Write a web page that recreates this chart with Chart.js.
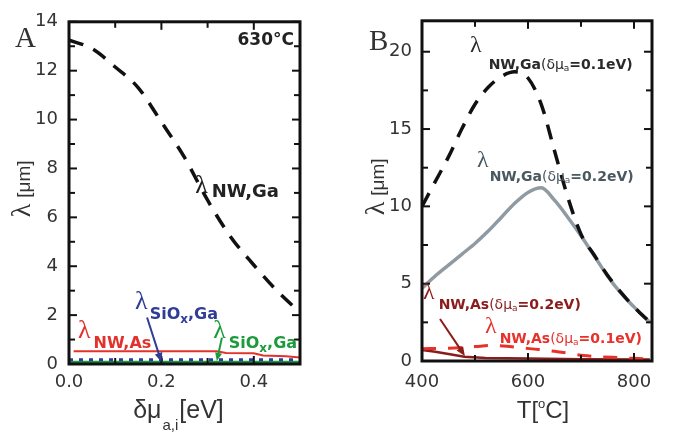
<!DOCTYPE html>
<html>
<head>
<meta charset="utf-8">
<script src="https://cdn.jsdelivr.net/npm/chart.js@4.4.1/dist/chart.umd.min.js"></script>
<style>
  html, body { margin: 0; padding: 0; background: #fff; }
  #wrap { position: relative; width: 674px; height: 436px; }
  canvas { position: absolute; left: 0; top: 0; }
</style>
</head>
<body>
<div id="wrap">
  <canvas id="chartA" width="674" height="436"></canvas>
  <canvas id="chartB" width="674" height="436"></canvas>
</div>
<script>
// panel A : lambda vs delta mu at 630 C
var muA = [0, 0.05, 0.1, 0.15, 0.2, 0.25, 0.3, 0.35, 0.4, 0.45, 0.5];
var nwGaA = [13.25, 12.9, 12.15, 11.3, 9.9, 8.45, 6.7, 5.2, 4.05, 3.0, 2.1];
var muAsA = [0.01, 0.32, 0.34, 0.40, 0.42, 0.47, 0.50];
var nwAsA = [0.52, 0.52, 0.45, 0.44, 0.35, 0.32, 0.27];
var muSiA = [0, 0.5];
var siBlueA = [0.17, 0.17];
var siGreenA = [0.08, 0.08];
var xTicksA = [0, 0.2, 0.4];
var xMinorA = [0.1, 0.3];
var yTicksA = [0, 2, 4, 6, 8, 10, 12, 14];
var yMinorA = [1, 3, 5, 7, 9, 11, 13];

// panel B : lambda vs T
var tGa = [400, 425, 450, 475, 500, 525, 550, 575, 600, 625, 650, 675, 700, 725, 750, 775, 800, 830];
var nwGa01 = [10.0, 11.6, 13.2, 15.0, 16.6, 17.7, 18.4, 18.7, 18.3, 16.6, 13.6, 10.6, 8.2, 6.85, 5.55, 4.45, 3.5, 2.5];
var nwGa02 = [4.7, 5.5, 6.2, 6.9, 7.6, 8.4, 9.3, 10.2, 10.9, 11.2, 10.4, 9.3, 8.1, 6.8, 5.5, 4.4, 3.5, 2.5];
var tAs02 = [400, 425, 450, 480, 520, 600, 700, 830];
var nwAs02 = [0.72, 0.6, 0.45, 0.27, 0.2, 0.16, 0.12, 0.1];
var tAs01 = [400, 450, 500, 530, 560, 585, 620, 650, 680, 705, 740, 770, 800, 830];
var nwAs01 = [0.8, 0.82, 0.93, 1.0, 0.95, 0.85, 0.75, 0.63, 0.48, 0.35, 0.27, 0.22, 0.17, 0.13];
var xTicksB = [400, 600, 800];
var xMinorB = [500, 700];
var yTicksB = [0, 5, 10, 15, 20];
var yMinorB = [2.5, 7.5, 12.5, 17.5];

var SANS = '"DejaVu Sans", sans-serif';
var SERIF = '"Liberation Serif", "Times New Roman", serif';
var AX = '"Liberation Sans", Arial, sans-serif';

function pts(xs, ys) {
  return xs.map(function (x, i) { return { x: x, y: ys[i] }; });
}

function drawRich(ctx, x, y, parts, color, align) {
  // parts: [text, font, dy, gap before]
  var total = 0;
  parts.forEach(function (p) { ctx.font = p[1]; total += (p[3] || 0) + ctx.measureText(p[0]).width; });
  var cx = align === 'right' ? x - total : (align === 'center' ? x - total / 2 : x);
  ctx.fillStyle = color;
  ctx.textAlign = 'left';
  ctx.textBaseline = 'alphabetic';
  parts.forEach(function (p) {
    ctx.font = p[1];
    cx += p[3] || 0;
    ctx.fillText(p[0], cx, y + (p[2] || 0));
    cx += ctx.measureText(p[0]).width;
  });
}

function drawArrow(ctx, x1, y1, x2, y2, color, w, head) {
  var ang = Math.atan2(y2 - y1, x2 - x1);
  ctx.strokeStyle = color; ctx.fillStyle = color; ctx.lineWidth = w;
  ctx.beginPath();
  ctx.moveTo(x1, y1);
  ctx.lineTo(x2 - Math.cos(ang) * head * 0.8, y2 - Math.sin(ang) * head * 0.8);
  ctx.stroke();
  ctx.beginPath();
  ctx.moveTo(x2, y2);
  ctx.lineTo(x2 - head * Math.cos(ang - 0.4), y2 - head * Math.sin(ang - 0.4));
  ctx.lineTo(x2 - head * Math.cos(ang + 0.4), y2 - head * Math.sin(ang + 0.4));
  ctx.closePath();
  ctx.fill();
}

// frame, inward ticks, labels and arrows
function panelPlugin(cfg) {
  return {
    id: 'panel',
    afterDraw: function (chart) {
      var ctx = chart.ctx, a = chart.chartArea, xs = chart.scales.x, ys = chart.scales.y;
      ctx.save();
      ctx.strokeStyle = '#111';
      ctx.lineWidth = 2;
      function seg(x1, y1, x2, y2) { ctx.beginPath(); ctx.moveTo(x1, y1); ctx.lineTo(x2, y2); ctx.stroke(); }
      function tx(list, len) {
        list.forEach(function (v) {
          var p = xs.getPixelForValue(v);
          seg(p, a.bottom, p, a.bottom - len); seg(p, a.top, p, a.top + len);
        });
      }
      function ty(list, len) {
        list.forEach(function (v) {
          var p = ys.getPixelForValue(v);
          seg(a.left, p, a.left + len, p); seg(a.right, p, a.right - len, p);
        });
      }
      tx(cfg.xMajor, 8); tx(cfg.xMinor, 6);
      ty(cfg.yMajor, 8); ty(cfg.yMinor, 6);
      ctx.lineWidth = 3;
      ctx.strokeRect(a.left, a.top, a.right - a.left, a.bottom - a.top);

      cfg.labels.forEach(function (l) {
        drawRich(ctx, xs.getPixelForValue(l.x), ys.getPixelForValue(l.y), l.parts, l.color, l.align);
      });
      cfg.arrows.forEach(function (r) {
        drawArrow(ctx, xs.getPixelForValue(r.from[0]), ys.getPixelForValue(r.from[1]),
          xs.getPixelForValue(r.to[0]), ys.getPixelForValue(r.to[1]), r.color, r.width, r.head);
      });

      // x axis title
      drawRich(ctx, (a.left + a.right) / 2 + cfg.xTitleShift, a.bottom + cfg.xTitleDrop, cfg.xTitle, '#333', 'center');
      // y axis title, rotated
      ctx.save();
      ctx.translate(a.left - cfg.yTitleGap, (a.top + a.bottom) / 2 - 4);
      ctx.rotate(-Math.PI / 2);
      drawRich(ctx, 0, 0, [['λ', '28px ' + SERIF, 0], ['[μm]', '19px ' + AX, 0, 6]], '#333', 'center');
      ctx.restore();
      // panel letter
      drawRich(ctx, cfg.letterPos[0], cfg.letterPos[1], [[cfg.letter, '29px ' + SERIF, 0]], '#333');
      ctx.restore();
    }
  };
}

function makePanel(id, datasets, sx, sy, pad, yWidth, xHeight, cfg) {
  return new Chart(document.getElementById(id), {
    type: 'line',
    data: { datasets: datasets },
    options: {
      responsive: false,
      animation: false,
      events: [],
      layout: { padding: pad },
      elements: { point: { radius: 0 } },
      plugins: { legend: { display: false }, tooltip: { enabled: false } },
      scales: {
        x: {
          type: 'linear', min: sx.min, max: sx.max,
          grid: { display: false, drawTicks: false },
          border: { display: false },
          afterBuildTicks: function (s) { s.ticks = sx.ticks.map(function (v) { return { value: v }; }); },
          afterFit: function (s) { s.height = xHeight; },
          ticks: { padding: sx.pad, color: '#333', font: { family: SANS, size: 18 }, maxRotation: 0, callback: sx.fmt }
        },
        y: {
          type: 'linear', min: sy.min, max: sy.max,
          grid: { display: false, drawTicks: false },
          border: { display: false },
          afterBuildTicks: function (s) { s.ticks = sy.ticks.map(function (v) { return { value: v }; }); },
          afterFit: function (s) { s.width = yWidth; },
          ticks: { padding: sy.pad, color: '#333', font: { family: SANS, size: 18 } }
        }
      }
    },
    plugins: [panelPlugin(cfg)]
  });
}

var subA = 'bold 16px ' + SANS;
var lamA = '26px ' + SERIF;

makePanel('chartA', [
  { data: pts(muA, nwGaA), borderColor: '#111', borderWidth: 3.5, borderDash: [15, 11], cubicInterpolationMode: 'monotone' },
  { data: pts(muAsA, nwAsA), borderColor: '#e3312b', borderWidth: 2, tension: 0 },
  { data: pts(muSiA, siBlueA), borderColor: '#2e3d96', borderWidth: 3, borderDash: [4, 6] },
  { data: pts(muSiA, siGreenA), borderColor: '#1d9b3c', borderWidth: 2.5 }
], { min: 0, max: 0.5, ticks: xTicksA, pad: 8, fmt: function (v) { return v.toFixed(1); } },
   { min: 0, max: 14, ticks: yTicksA, pad: 11 },
   { left: 0, top: 15, right: 374, bottom: 0 }, 69, 72,
   {
     xMajor: xTicksA, xMinor: xMinorA, yMajor: yTicksA, yMinor: yMinorA,
     letter: 'A', letterPos: [15, 47],
     xTitle: [['δμ', '25px ' + AX, 0], ['a,i', '15px ' + AX, 12, 1], ['[eV]', '25px ' + AX, 0, 1]],
     xTitleShift: -6, xTitleDrop: 54, yTitleGap: 39,
     labels: [
       { x: 0.487, y: 13.04, color: '#222', align: 'right', parts: [['630°C', 'bold 17px ' + SANS, 0]] },
       { x: 0.273, y: 7.0, color: '#222', parts: [['λ', lamA, 0], ['NW,Ga', 'bold 18px ' + SANS, 4, 4]] },
       { x: 0.0195, y: 1.08, color: '#e3312b', parts: [['λ', lamA, 0], ['NW,As', subA, 10, 3]] },
       { x: 0.143, y: 2.25, color: '#2e3d96', parts: [['λ', lamA, 0], ['SiO', subA, 10, 2], ['x', 'bold 12px ' + SANS, 14], [',Ga', subA, 10]] },
       { x: 0.312, y: 1.08, color: '#1d9b3c', parts: [['λ', lamA, 0], ['SiO', subA, 10, 3], ['x', 'bold 12px ' + SANS, 14], [',Ga', subA, 10]] }
     ],
     arrows: [
       { from: [0.169, 1.9], to: [0.2, 0.08], color: '#2e3d96', width: 2, head: 10 },
       { from: [0.331, 1.08], to: [0.32, 0.12], color: '#1d9b3c', width: 2, head: 9 }
     ]
   });

var subB = 'bold 14px ' + SANS;
var thinB = '14px ' + SANS;
var lamB = '24px ' + SERIF;
function labelB(name, val, dy, gap) {
  return [['λ', lamB, 0], [name, subB, dy, gap], ['(δμ', thinB, dy], ['a', '9px ' + SANS, dy + 2], ['=' + val + 'eV)', subB, dy]];
}

makePanel('chartB', [
  { data: pts(tGa, nwGa01), borderColor: '#111', borderWidth: 3.5, borderDash: [15, 11], cubicInterpolationMode: 'monotone' },
  { data: pts(tGa, nwGa02), borderColor: '#8f9aa2', borderWidth: 3.5, cubicInterpolationMode: 'monotone' },
  { data: pts(tAs01, nwAs01), borderColor: '#e8312b', borderWidth: 3, borderDash: [14, 12], cubicInterpolationMode: 'monotone' },
  { data: pts(tAs02, nwAs02), borderColor: '#8b1c1c', borderWidth: 2.5, tension: 0 }
], { min: 400, max: 834, ticks: xTicksB, pad: 11 },
   { min: 0, max: 22, ticks: yTicksB, pad: 10 },
   { left: 0, top: 13, right: 22, bottom: 0 }, 422, 75,
   {
     xMajor: xTicksB, xMinor: xMinorB, yMajor: yTicksB, yMinor: yMinorB,
     letter: 'B', letterPos: [369, 50],
     xTitle: [['T[', '24px ' + AX, 0], ['o', '13px ' + AX, -10], ['C]', '24px ' + AX, 0]],
     xTitleShift: 6, xTitleDrop: 57, yTitleGap: 38,
     labels: [
       { x: 490.6, y: 20.0, color: '#2a2a2a', parts: labelB('NW,Ga', '0.1', 17, 7) },
       { x: 503.8, y: 12.55, color: '#4a5860', parts: labelB('NW,Ga', '0.2', 14, 1) },
       { x: 401.9, y: 3.99, color: '#8b1c1c', parts: labelB('NW,As', '0.2', 10, 4) },
       { x: 518.9, y: 1.84, color: '#e8312b', parts: labelB('NW,As', '0.1', 10, 3) }
     ],
     arrows: [
       { from: [434, 2.72], to: [481, 0.32], color: '#8b1c1c', width: 2, head: 10 }
     ]
   });
</script>
</body>
</html>
